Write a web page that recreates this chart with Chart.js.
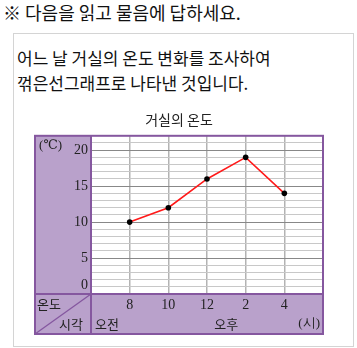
<!DOCTYPE html>
<html><head><meta charset="utf-8">
<script src="https://cdn.jsdelivr.net/npm/chart.js@4"></script>
<style>
html,body{margin:0;padding:0;background:#fff;}
body{width:357px;height:348px;position:relative;overflow:hidden;font-family:"Noto Sans CJK KR",sans-serif;color:#111;}
#q{position:absolute;left:3px;top:1px;font-size:18px;line-height:22px;white-space:nowrap;}
#box{position:absolute;left:13px;top:33px;width:339px;height:312px;border:1px solid #d4d4d4;}
#p{position:absolute;left:17px;top:45px;font-size:17px;line-height:25px;white-space:nowrap;}
#wrap{position:absolute;left:0;top:0;width:357px;height:348px;}
canvas{display:block;}
</style></head>
<body>
<div id="box"></div>
<div id="q">※ 다음을 읽고 물음에 답하세요.</div>
<div id="p">어느 날 거실의 온도 변화를 조사하여<br>꺾은선그래프로 나타낸 것입니다.</div>
<div id="wrap"><canvas id="c" width="357" height="348" style="width:357px;height:348px"></canvas></div>
<script>
// ---- data ----
const timeLabels = ['8','10','12','2','4'];
const temps = [10, 12, 16, 19, 14];
const yTickLabels = [0, 5, 10, 15, 20];
const yMax = 22;
const chartTitle = '거실의 온도';
const unitLabel = '(℃)';
const rowHeader = ['온도', '시각'];
const periodLabels = ['오전', '오후', '(시)'];

const PURPLE_FILL = '#b9a1cb';
const PURPLE_LINE = '#85579f';
const SERIF = '"Liberation Serif", "DejaVu Serif", serif';
const KR = '"Noto Sans CJK KR", sans-serif';

const labels = ['', ...timeLabels, ''];
const series = [null, ...temps, null];

const decor = {
  id: 'decor',
  beforeDraw(chart) {
    const {ctx, chartArea: a, scales: {x, y}} = chart;
    const L = y.left, B = x.bottom;
    ctx.save();
    ctx.fillStyle = PURPLE_FILL;
    ctx.fillRect(L, a.top, a.right - L, B - a.top);
    ctx.fillStyle = '#fff';
    ctx.fillRect(a.left, a.top, a.right - a.left, a.bottom - a.top);
    ctx.restore();
  },
  afterDraw(chart) {
    const {ctx, chartArea: a, scales: {x, y}} = chart;
    const L = y.left, B = x.bottom;
    ctx.save();
    ctx.strokeStyle = PURPLE_LINE;
    ctx.lineWidth = 2;
    ctx.strokeRect(L, a.top, a.right - L, B - a.top);
    ctx.beginPath();
    ctx.moveTo(a.left, a.top); ctx.lineTo(a.left, B);
    ctx.moveTo(L, a.bottom); ctx.lineTo(a.right, a.bottom);
    ctx.stroke();
    ctx.lineWidth = 1.3;
    ctx.beginPath();
    ctx.moveTo(L, B); ctx.lineTo(a.left, a.bottom);
    ctx.stroke();
    // texts
    const row2 = B - 10, row1 = a.bottom + 10;
    ctx.fillStyle = '#222';
    ctx.textBaseline = 'middle';
    ctx.font = '13px ' + KR;
    ctx.textAlign = 'left';
    ctx.fillText(rowHeader[0], L + 2, row1);
    ctx.textAlign = 'right';
    ctx.fillText(rowHeader[1], a.left - 8, row2);
    ctx.textAlign = 'left';
    ctx.fillText(periodLabels[0], a.left + 4, row2);
    ctx.textAlign = 'center';
    const mid = (x.getPixelForValue(3) + x.getPixelForValue(4)) / 2;
    ctx.fillText(periodLabels[1], mid, row2);
    ctx.textAlign = 'right';
    ctx.font = '13px ' + SERIF;
    ctx.fillText(periodLabels[2], a.right - 3, row2);
    ctx.textAlign = 'left';
    ctx.fillText(unitLabel, L + 4, a.top + 10);
    ctx.restore();
  }
};

new Chart(document.getElementById('c'), {
  type: 'line',
  data: {
    labels: labels,
    datasets: [{
      data: series,
      borderColor: '#ff1a1a',
      borderWidth: 1.6,
      pointBackgroundColor: '#000',
      pointBorderColor: '#000',
      pointRadius: 2.8,
      pointBorderWidth: 0,
      tension: 0,
      spanGaps: false
    }]
  },
  options: {
    responsive: false,
    animation: false,
    devicePixelRatio: 1,
    layout: {padding: {left: 35, right: 34, top: 111, bottom: 14}},
    plugins: {
      legend: {display: false},
      tooltip: {enabled: false},
      title: {
        display: true, text: chartTitle, color: '#222',
        font: {family: KR, size: 14, weight: 'normal'},
        padding: {top: 0, bottom: 8}
      }
    },
    scales: {
      x: {
        type: 'category',
        offset: false,
        border: {display: false},
        grid: {
          color: c => (c.index === 0 || c.index === labels.length - 1) ? 'rgba(0,0,0,0)' : '#b3b3b3',
          lineWidth: 1.5,
          drawTicks: false
        },
        ticks: {padding: 3, autoSkip: false, maxRotation: 0, color: '#222', font: {family: SERIF, size: 14}},
        afterFit(s) { s.height = 40; }
      },
      y: {
        min: 0, max: yMax,
        border: {display: false},
        grid: {
          color: c => (c.tick && c.tick.value % 5 === 0) ? '#888888' : '#c8c8c8',
          drawTicks: false
        },
        ticks: {
          stepSize: 1, autoSkip: false, padding: 3, color: '#222',
          font: {family: SERIF, size: 14},
          callback: v => yTickLabels.includes(v) ? (v === 0 ? [String(v), ''] : String(v)) : ''
        },
        afterFit(s) { s.width = 56; }
      }
    }
  },
  plugins: [decor]
});
</script>
</body></html>
